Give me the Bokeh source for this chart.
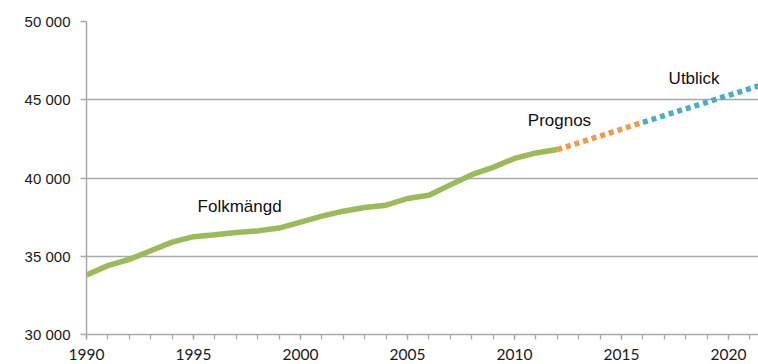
from bokeh.plotting import figure
from bokeh.models import Range1d, SingleIntervalTicker, FixedTicker, CustomJSTickFormatter, Label
from bokeh.embed import file_html
from bokeh.resources import INLINE

# Data
years_hist = list(range(1990, 2013))
folkmangd = [33800, 34400, 34800, 35350, 35900, 36250, 36380, 36520, 36620, 36800,
             37180, 37560, 37880, 38120, 38260, 38690, 38900, 39560, 40210, 40680,
             41250, 41600, 41820]
years_prog = [2012, 2013, 2014, 2015, 2016]
prognos = [41820, 42250, 42680, 43120, 43560]
years_utb = [2016, 2017, 2018, 2019, 2020, 2021, 2022]
utblick = [43560, 43990, 44420, 44850, 45280, 45710, 46140]
y_ticks = [30000, 35000, 40000, 45000, 50000]

GREEN = "#9BBB59"
ORANGE = "#F79646"
BLUE = "#4BACC6"
GRID = "#a9a9a9"

p = figure(width=758, height=364, output_backend="svg", toolbar_location=None,
           x_range=Range1d(1990, 2021.4), y_range=Range1d(30000, 50000),
           min_border_left=86, min_border_right=0, min_border_top=21, min_border_bottom=30)
p.outline_line_color = None
p.background_fill_color = "white"
p.border_fill_color = "white"

p.xgrid.grid_line_color = None
p.ygrid.grid_line_color = GRID
p.ygrid.grid_line_width = 1.3
p.yaxis.ticker = FixedTicker(ticks=y_ticks)
p.ygrid.ticker = FixedTicker(ticks=y_ticks)
p.yaxis.formatter = CustomJSTickFormatter(code="return tick.toFixed(0).replace(/\\B(?=(\\d{3})+(?!\\d))/g, ' ');")

p.xaxis.ticker = SingleIntervalTicker(interval=5, num_minor_ticks=5)

for ax in (p.xaxis[0], p.yaxis[0]):
    ax.axis_line_color = GRID
    ax.axis_line_width = 1.5
    ax.major_tick_line_color = GRID
    ax.major_tick_line_width = 1.3
    ax.minor_tick_line_color = GRID
    ax.minor_tick_line_width = 1.3
    ax.major_tick_in = 0
    ax.minor_tick_in = 0
    ax.major_label_text_color = "#1a1a1a"

p.xaxis.major_tick_out = 5
p.xaxis.minor_tick_out = 5
p.xaxis.major_label_standoff = 9
p.xaxis.major_label_text_font = "Lato"
p.xaxis.major_label_text_font_size = "15.5px"

p.yaxis.major_tick_out = 6
p.yaxis.minor_tick_out = 0
p.yaxis.minor_tick_line_color = None
p.yaxis.major_label_standoff = 10
p.yaxis.major_label_text_font = "Liberation Sans"
p.yaxis.major_label_text_font_size = "15px"

p.line(years_hist, folkmangd, line_color=GREEN, line_width=5.5, line_join="round")
p.line(years_prog, prognos, line_color=ORANGE, line_width=5.5, line_dash="5 4", line_cap="butt")
p.line(years_utb, utblick, line_color=BLUE, line_width=5.5, line_dash="5 4", line_cap="butt")

for txt, lx, ly in [("Folkmängd", 1995.19, 38195), ("Prognos", 2010.62, 43670), ("Utblick", 2017.2, 46358)]:
    p.add_layout(Label(x=lx, y=ly, text=txt, text_font="Liberation Sans", text_font_size="17px",
                       text_color="#111111", text_align="left", text_baseline="middle"))

open("out.html", "w").write(file_html(p, INLINE))
